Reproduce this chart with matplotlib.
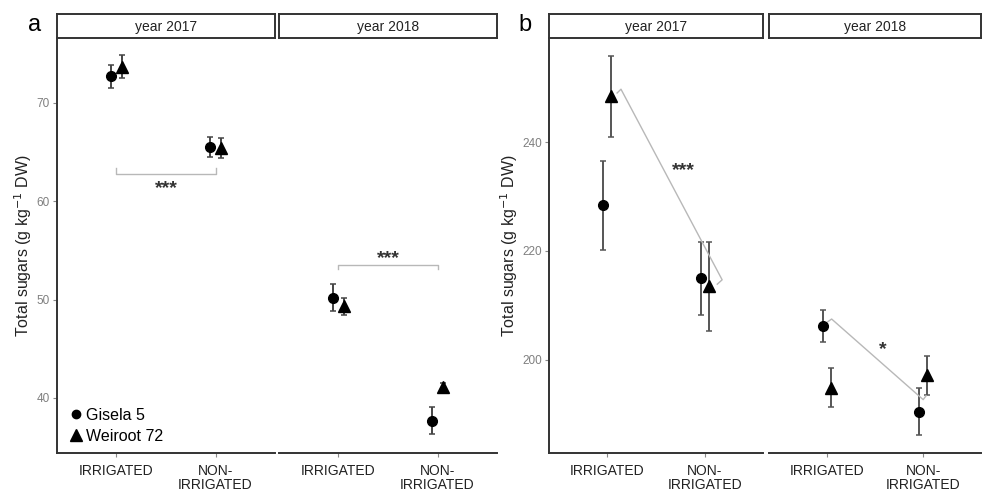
import numpy as np
import matplotlib
matplotlib.use("Agg")
import matplotlib.pyplot as plt
from matplotlib.lines import Line2D

plt.rcParams["font.family"] = ["Liberation Sans", "DejaVu Sans"]

W, H = 982, 493

# ---- data -------------------------------------------------------------
categories = ["IRRIGATED", "NON-\nIRRIGATED"]
years = ["year 2017", "year 2018"]
genotypes = ["Gisela 5", "Weiroot 72"]

# panel a: means and standard errors, [irrigated, non-irrigated]
a_gisela_2017 = [72.7, 65.5]
a_gisela_2017_err = [1.15, 1.0]
a_weiroot_2017 = [73.7, 65.4]
a_weiroot_2017_err = [1.15, 1.05]
a_gisela_2018 = [50.2, 37.7]
a_gisela_2018_err = [1.4, 1.35]
a_weiroot_2018 = [49.3, 41.1]
a_weiroot_2018_err = [0.85, 0.45]

# panel b
b_gisela_2017 = [228.4, 215.0]
b_gisela_2017_err = [8.2, 6.7]
b_weiroot_2017 = [248.4, 213.5]
b_weiroot_2017_err = [7.4, 8.2]
b_gisela_2018 = [206.2, 190.5]
b_gisela_2018_err = [3.0, 4.3]
b_weiroot_2018 = [194.9, 197.2]
b_weiroot_2018_err = [3.6, 3.6]

# significance brackets (x in category units, y in data units)
a_sig_2017 = dict(x=[0, 0, 1, 1], y=[63.4, 62.8, 62.8, 63.4], label="***", tx=0.5, ty=61.3)
a_sig_2018 = dict(x=[0, 0, 1, 1], y=[53.1, 53.5, 53.5, 53.1], label="***", tx=0.5, ty=54.2)
b_sig_2017 = dict(x=[0.10, 0.14, 1.18, 1.13], y=[249.0, 249.7, 214.7, 213.9], label="***", tx=0.78, ty=234.8)
b_sig_2018 = dict(x=[0.01, 0.05, 1.00, 1.03], y=[207.0, 207.5, 192.7, 193.4], label="*", tx=0.58, ty=201.8)

a_yticks = [40, 50, 60, 70]
b_yticks = [200, 220, 240]


def px_axes(fig, x0, y0, x1, y1):
    return fig.add_axes([x0 / W, 1 - y1 / H, (x1 - x0) / W, (y1 - y0) / H])


def strip(fig, x0, x1, text):
    s = px_axes(fig, x0, 14, x1, 38)
    s.set_xticks([])
    s.set_yticks([])
    for sp in s.spines.values():
        sp.set_color("#333333")
        sp.set_linewidth(1.4)
    s.text(0.5, 0.45, text, ha="center", va="center", fontsize=10, color="#222222",
           transform=s.transAxes)


def facet(fig, x0, x1, ylim, yticks, gis, gis_e, wei, wei_e, sig, dodge, ebcol,
          first=False):
    ax = px_axes(fig, x0, 38, x1, 453)
    xs = np.arange(len(categories))
    ax.errorbar(xs - dodge, gis, yerr=gis_e, fmt="o", color="black", ms=7,
                ecolor=ebcol, elinewidth=1.4, capsize=2, capthick=1.1)
    ax.errorbar(xs + dodge, wei, yerr=wei_e, fmt="^", color="black", ms=8.5,
                ecolor=ebcol, elinewidth=1.4, capsize=2, capthick=1.1)
    ax.plot(sig["x"], sig["y"], color="#b8b8b8", lw=1.0)
    ax.text(sig["tx"], sig["ty"], sig["label"], ha="center", va="center",
            fontsize=14, fontweight="bold", color="#333333")
    ax.set_xlim(-0.6, 1.6)
    ax.set_ylim(*ylim)
    ax.set_xticks(xs)
    ax.set_xticklabels(categories, fontsize=10, color="#222222", linespacing=0.95)
    ax.tick_params(axis="x", length=3, color="#888888", pad=5)
    for k in ("top", "right"):
        ax.spines[k].set_visible(False)
    ax.spines["bottom"].set_color("#333333")
    ax.spines["bottom"].set_linewidth(1.4)
    if first:
        ax.set_yticks(yticks)
        ax.tick_params(axis="y", length=3, color="#888888", labelsize=8.5,
                       labelcolor="#7f7f7f", pad=2)
        ax.spines["left"].set_color("#333333")
        ax.spines["left"].set_linewidth(1.4)
    else:
        ax.set_yticks([])
        ax.spines["left"].set_visible(False)
    return ax


fig = plt.figure(figsize=(W / 100, H / 100), dpi=100)

# ---- panel a ----------------------------------------------------------
a_ylim = (34.4, 76.6)
ax_a1 = facet(fig, 57, 275, a_ylim, a_yticks, a_gisela_2017, a_gisela_2017_err,
              a_weiroot_2017, a_weiroot_2017_err, a_sig_2017, 0.06, "#444444", first=True)
ax_a2 = facet(fig, 279, 497, a_ylim, a_yticks, a_gisela_2018, a_gisela_2018_err,
              a_weiroot_2018, a_weiroot_2018_err, a_sig_2018, 0.06, "#444444")
strip(fig, 57, 275, years[0])
strip(fig, 279, 497, years[1])
ax_a1.set_ylabel("Total sugars (g kg$^{-1}$ DW)", fontsize=11.5, color="#222222", labelpad=2)
handles = [Line2D([], [], ls="none", marker="o", color="black", ms=6),
           Line2D([], [], ls="none", marker="^", color="black", ms=8)]
ax_a1.legend(handles, genotypes, loc="lower left", bbox_to_anchor=(0.0, -0.005),
             frameon=False, fontsize=11.5, handletextpad=0.1, labelspacing=0.4,
             borderaxespad=0.3, handlelength=1.0)
fig.text(35 / W, 1 - 25 / H, "a", fontsize=17, ha="center", va="center")

# ---- panel b ----------------------------------------------------------
b_ylim = (182.9, 259.1)
ax_b1 = facet(fig, 549, 763, b_ylim, b_yticks, b_gisela_2017, b_gisela_2017_err,
              b_weiroot_2017, b_weiroot_2017_err, b_sig_2017, 0.04, "#555555", first=True)
ax_b2 = facet(fig, 769, 981, b_ylim, b_yticks, b_gisela_2018, b_gisela_2018_err,
              b_weiroot_2018, b_weiroot_2018_err, b_sig_2018, 0.04, "#555555")
strip(fig, 549, 763, years[0])
strip(fig, 769, 981, years[1])
ax_b1.set_ylabel("Total sugars (g kg$^{-1}$ DW)", fontsize=11.5, color="#222222", labelpad=2)
fig.text(525 / W, 1 - 25 / H, "b", fontsize=17, ha="center", va="center")

fig.savefig("out.png", dpi=100)
